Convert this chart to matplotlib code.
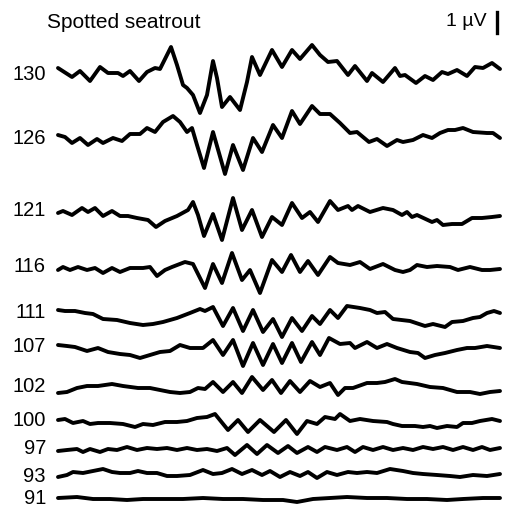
import matplotlib
matplotlib.use("Agg")
import matplotlib.pyplot as plt

plt.rcParams['font.family'] = ['Liberation Sans', 'DejaVu Sans']

# stimulus levels (dB) shown at the left of each trace
levels = ['130', '126', '121', '116', '111', '107', '102', '100', '97', '93', '91']

t130 = [58, 72, 80, 90, 100, 108, 118, 123, 130, 139, 147, 155, 160, 171, 177, 183, 187, 193, 200, 207,
        213, 217, 222, 230, 240, 247, 252, 260, 272, 282, 292, 300, 312, 320, 328, 337, 348, 355, 367, 372,
        383, 395, 400, 405, 416, 425, 433, 442, 448, 457, 467, 475, 483, 492, 500]
a130 = [2, -7, -1, -11, 3, -3, -3, -6, -1, -11, -2, 2, 1, 23, 5, -15, -18, -25, -43, -25,
        9, -8, -37, -27, -40, -12, 13, -5, 20, 3, 20, 11, 25, 15, 8, 9, -5, 4, -11, -3,
        -12, 2, -6, -5, -13, -6, -10, -2, -4, 0, -6, 3, 2, 7, 1]

t126 = [58, 65, 72, 80, 88, 97, 103, 113, 122, 130, 140, 147, 155, 163, 173, 180, 187, 192, 197, 204,
        213, 225, 233, 243, 253, 262, 273, 282, 292, 300, 312, 320, 330, 340, 350, 357, 369, 377, 387, 397,
        403, 413, 423, 432, 440, 448, 455, 463, 473, 487, 493, 500]
a126 = [2, 0, -6, -1, -8, -2, -6, -1, -4, 3, 3, 9, 5, 15, 21, 15, 5, 9, -8, -31,
        5, -37, -8, -33, -1, -15, 12, -1, 26, 13, 31, 23, 23, 14, 4, 5, -5, -2, -9, -3,
        -5, -3, 2, -1, 4, 7, 7, 9, 5, 4, 4, -1]

t121 = [58, 63, 72, 82, 88, 95, 103, 112, 120, 128, 137, 148, 156, 165, 177, 188, 193, 198, 204, 213,
        222, 233, 242, 252, 262, 272, 282, 292, 302, 310, 318, 330, 338, 348, 352, 358, 370, 383, 393, 402,
        407, 412, 417, 432, 437, 443, 452, 462, 472, 482, 492, 500]
a121 = [0, 2, -2, 5, 1, 5, -3, 2, -3, -3, -5, -7, -14, -8, -3, 3, 11, -2, -23, -1,
        -27, 15, -17, 3, -24, -4, -12, 10, -5, 1, -9, 12, 3, 7, 3, 7, 1, 5, 3, -2,
        1, -4, -2, -9, -7, -12, -11, -11, -5, -5, -4, -3]

t116 = [58, 63, 70, 78, 87, 95, 103, 112, 120, 130, 143, 150, 157, 165, 172, 185, 193, 205, 213, 222,
        232, 242, 250, 260, 272, 282, 291, 300, 308, 318, 330, 338, 350, 360, 370, 383, 395, 403, 410, 417,
        427, 437, 450, 458, 470, 482, 490, 500]
a116 = [-1, 2, -1, 2, -1, 1, -4, 1, -3, 1, 1, 2, -7, -1, 2, 7, 5, -19, 5, -14,
        16, -11, -1, -24, 9, -3, 14, -3, 8, -6, 12, 6, 4, 7, 0, 5, -1, -3, -1, 4,
        2, 3, 2, -1, 2, -1, -1, 0]

t111 = [58, 65, 75, 85, 93, 103, 117, 130, 143, 153, 163, 177, 190, 200, 205, 213, 223, 233, 243, 253,
        263, 273, 282, 292, 302, 312, 320, 330, 338, 347, 360, 370, 377, 385, 393, 410, 425, 433, 445, 452,
        463, 473, 480, 487, 494, 500]
a111 = [1, 0, 0, -2, -3, -8, -9, -12, -14, -13, -11, -7, -2, 2, 0, 4, -15, 3, -20, 1,
        -21, -8, -26, -7, -20, -5, -13, 1, -7, 5, 3, 1, -2, -1, -8, -10, -15, -13, -16, -11,
        -10, -7, -6, -2, 0, -2]

t107 = [58, 67, 75, 87, 98, 108, 120, 130, 140, 150, 160, 170, 180, 190, 203, 213, 223, 233, 243, 253,
        263, 273, 282, 292, 301, 312, 320, 329, 340, 350, 355, 367, 377, 387, 397, 410, 418, 425, 435, 445,
        457, 467, 475, 487, 500]
a107 = [1, 0, -1, -5, -2, -6, -8, -9, -12, -9, -6, -5, 1, -2, -2, 6, -9, 6, -20, 3,
        -19, 2, -17, 3, -16, 4, -9, 8, 2, 3, -2, 4, -2, 2, -2, -6, -7, -12, -9, -7,
        -4, -2, -2, 0, -2]

t102 = [58, 67, 77, 87, 98, 112, 123, 138, 150, 160, 170, 180, 190, 198, 205, 213, 223, 233, 242, 252,
        263, 272, 281, 290, 300, 310, 320, 330, 338, 345, 353, 367, 377, 385, 395, 402, 417, 430, 443, 457,
        470, 480, 490, 500]
a102 = [-3, -2, 2, 4, 4, 6, 4, 2, 2, 0, -2, -3, -2, 2, 1, 8, -2, 8, -3, 13,
        0, 10, -3, 9, -2, 9, 3, 7, -5, 2, 2, 7, 7, 8, 11, 8, 6, 3, 2, -2,
        -2, -4, -2, -1]

t100 = [58, 65, 73, 83, 90, 98, 110, 123, 135, 143, 153, 165, 177, 187, 197, 207, 215, 228, 238, 248,
        260, 274, 286, 297, 307, 317, 325, 335, 340, 350, 360, 373, 387, 393, 402, 415, 423, 430, 437, 447,
        457, 463, 472, 480, 492, 500]
a100 = [1, 2, -2, 0, -3, -2, -2, -3, -6, -3, -4, -1, -1, 0, 3, 4, 7, -9, 1, -11,
        1, -11, 1, -13, 0, -3, 4, 2, 7, 0, 2, 0, -1, -3, -5, -5, -6, -5, -7, -5,
        -6, -2, -2, 0, 2, 0]

t97 = [58, 67, 77, 83, 90, 100, 108, 117, 127, 137, 147, 157, 167, 177, 187, 197, 207, 217, 227, 235,
       247, 257, 267, 278, 288, 297, 308, 317, 325, 337, 347, 355, 363, 373, 383, 393, 403, 413, 423, 433,
       443, 453, 463, 473, 482, 490, 500]
a97 = [-1, 0, 1, -2, 1, -2, 1, 0, 3, 0, 2, 1, 2, 0, 2, 0, 1, -1, 2, -5,
       5, -4, 5, -3, 4, -3, 3, -2, 3, 0, 3, -2, 3, 0, 3, 0, 2, 0, 3, 1,
       3, 0, 3, 0, 3, 0, 2]

t93 = [58, 67, 73, 83, 93, 103, 112, 120, 130, 138, 147, 157, 167, 177, 190, 203, 213, 222, 232, 242,
       252, 262, 270, 280, 290, 300, 308, 317, 327, 337, 348, 357, 367, 377, 390, 403, 413, 423, 437, 450,
       460, 473, 487, 500]
a93 = [-3, -1, 2, 1, 3, 5, 2, 1, 1, 3, 1, 1, -2, -2, -1, 4, 0, 1, 5, 0,
       4, -1, 3, -3, 2, -2, 2, -4, 2, -1, 2, 1, 2, 1, 5, 3, 1, 0, -1, -2,
       -3, -1, -2, 0]

t91 = [58, 77, 93, 110, 127, 143, 163, 183, 203, 223, 243, 263, 283, 297, 313, 330, 347, 367, 387, 407,
       427, 447, 463, 483, 500]
a91 = [1, 2, 0, 0, -1, 0, 0, 0, 1, 0, 0, -1, -1, -3, 0, 1, 2, 1, 1, 0,
       0, -1, 0, 1, 1]

times = [t130, t126, t121, t116, t111, t107, t102, t100, t97, t93, t91]
amps = [a130, a126, a121, a116, a111, a107, a102, a100, a97, a93, a91]

# layout: vertical position of each trace and its label (pixel rows)
baselines = [70, 137, 213, 269, 311, 346, 390, 421, 450, 474, 499]
label_rows = [74, 138, 210, 266, 313, 346, 386, 420, 449, 476, 498]
uv = 21  # units per microvolt

fig = plt.figure(figsize=(5.06, 5.08), dpi=100)
ax = fig.add_axes([0, 0, 1, 1])
ax.set_xlim(0, 506)
ax.set_ylim(508, 0)
ax.axis('off')

for lev, t, a, base, row in zip(levels, times, amps, baselines, label_rows):
    ax.plot(t, [base - v for v in a], color='black', lw=2.8,
            solid_joinstyle='round', solid_capstyle='round')
    ax.text(46, row, lev, ha='right', va='center', fontsize=14.5)

ax.text(47, 22, 'Spotted seatrout', ha='left', va='center', fontsize=15)

# 1 uV scale bar
ax.plot([497, 497], [12, 12 + uv], color='black', lw=2.4)
ax.text(487, 22, '1 µV', ha='right', va='center', fontsize=14)

fig.savefig('out.png', dpi=100)
